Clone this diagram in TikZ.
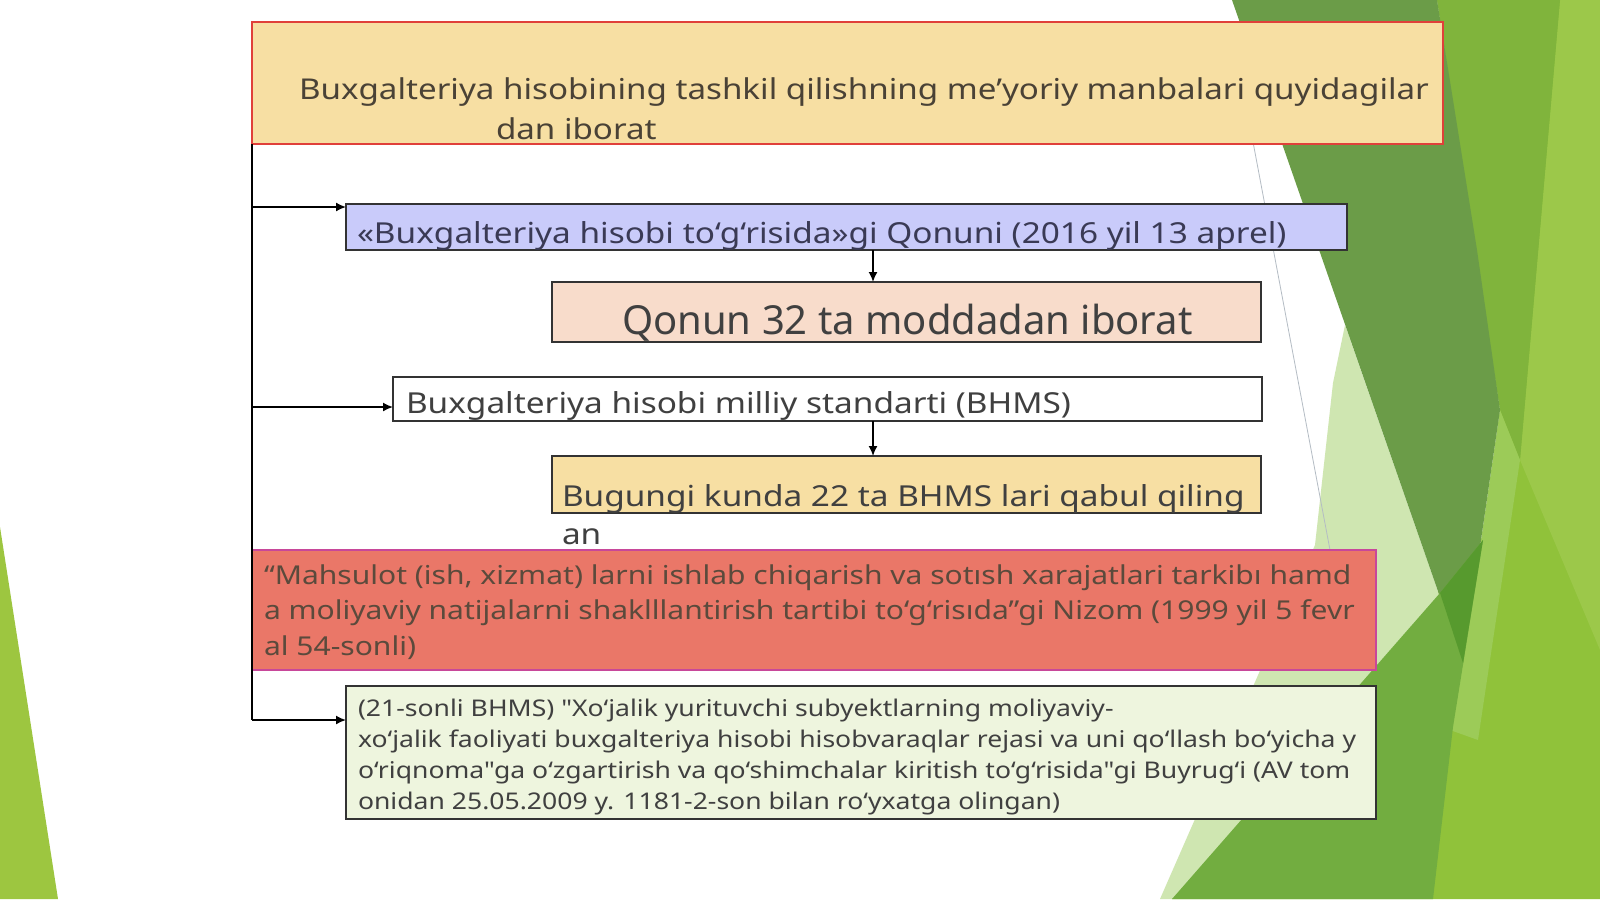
\documentclass[tikz,border=0pt]{standalone}
\usepackage{fontspec}
\setmainfont{Noto Sans}
\newfontfamily\widesans[FakeStretch=1.155]{Noto Sans}
\usetikzlibrary{arrows.meta}
\definecolor{leafgreen}{HTML}{9DC640}
\definecolor{brightleaf}{HTML}{90C23A}
\definecolor{sideleaf}{HTML}{9CC84A}
\definecolor{midleaf}{HTML}{80B43C}
\definecolor{darkleaf}{HTML}{6B9C48}
\definecolor{lightleaf}{HTML}{9CCB58}
\definecolor{paleleaf}{HTML}{CFE6B1}
\definecolor{lowleaf}{HTML}{72AD40}
\definecolor{deepleaf}{HTML}{579A2E}
\definecolor{rulegray}{HTML}{B4BCC4}
\definecolor{boxline}{HTML}{333333}
\definecolor{titlered}{HTML}{E0403A}
\definecolor{titlefill}{HTML}{F7DFA3}
\definecolor{titletext}{HTML}{4A4236}
\definecolor{lawfill}{HTML}{C9CBFA}
\definecolor{lawtext}{HTML}{3A3A55}
\definecolor{peachfill}{HTML}{F8DCCB}
\definecolor{plaintext}{HTML}{404040}
\definecolor{nizomfill}{HTML}{EA7768}
\definecolor{nizomline}{HTML}{C8479A}
\definecolor{nizomtext}{HTML}{5B4A3C}
\definecolor{orderfill}{HTML}{EEF5DE}
\def\boxtext[#1:#2:#3:#4]#5{\parbox[c][#2pt][t]{#1pt}{\raggedright\leftskip=#4pt\rightskip=-100pt plus 1fil\rule{0pt}{#3pt}#5}}
\tikzset{
	srcbox/.style={draw=boxline, line width=1.3pt, inner sep=0pt, outer sep=0pt, anchor=north west},
	trunk/.style={line width=1.6pt},
	feed/.style={line width=1.6pt, -{Latex[length=10pt,width=9pt]}}
}
\begin{document}
\begin{tikzpicture}[x=1pt,y=-1pt]
		%%%%% BACKGROUND %%%%%
		\useasboundingbox (0,0) rectangle (1600,899);
		\fill[white] (0,0) rectangle (1600,899);
		\fill[leafgreen] (0,527) -- (58,899) -- (0,899) -- cycle;
		
		\fill[brightleaf] (1437,0) -- (1600,0) -- (1600,899) -- (1172,899) -- (1483,540) -- (1500,410) -- cycle;
		\fill[paleleaf] (1345,325) -- (1463,663) -- (1172,899) -- (1160,899) -- (1315,545) -- (1333,383) -- cycle;
		\fill[sideleaf] (1560,0) -- (1600,0) -- (1600,650) -- (1520,460) -- cycle;
		\fill[midleaf] (1437,0) -- (1560,0) -- (1520,460) -- (1500,410) -- cycle;
		\fill[lightleaf] (1500,410) -- (1520,460) -- (1478,740) -- (1450,730) -- (1463,663) -- cycle;
		\fill[darkleaf] (1232,0) -- (1437,0) -- (1477,250) -- (1500,410) -- (1463,663) -- cycle;
		\fill[lowleaf] (1172,899) -- (1440,593) -- (1483,540) -- (1453,727) -- (1433,899) -- cycle;
		\fill[deepleaf] (1440,593) -- (1483,540) -- (1463,663) -- cycle;
		\draw[rulegray, line width=0.8pt] (1253,142) -- (1330,550);
		
		%%%%% BOXES %%%%%
		\node[srcbox, draw=titlered, fill=titlefill, text=titletext, font=\widesans\fontsize{28.7}{40}\selectfont] (title) at (252,22)
			{\boxtext[1191:122:77:47]{Buxgalteriya hisobining tashkil qilishning me’yoriy manbalari quyidagilar\\\hspace*{197pt}dan iborat}};
		\node[srcbox, fill=lawfill, text=lawtext, font=\widesans\fontsize{28.9}{40}\selectfont] (law) at (346,204)
			{\boxtext[1001:46:39:11]{«Buxgalteriya hisobi to‘g‘risida»gi Qonuni (2016 yil 13 aprel)}};
		\node[srcbox, fill=peachfill, text=plaintext, font=\fontsize{40}{50}\selectfont] (lawsize) at (552,282)
			{\boxtext[709:60:52:70]{Qonun 32 ta moddadan iborat}};
		\node[srcbox, fill=white, text=plaintext, font=\widesans\fontsize{28.9}{40}\selectfont] (nas) at (393,377)
			{\boxtext[869:44:36:13]{Buxgalteriya hisobi milliy standarti (BHMS)}};
		\node[srcbox, fill=titlefill, text=plaintext, font=\widesans\fontsize{28.9}{38}\selectfont] (nascount) at (552,456)
			{\boxtext[709:57:50:10]{Bugungi kunda 22 ta BHMS lari qabul qiling\\an}};
		\node[srcbox, draw=nizomline, fill=nizomfill, text=nizomtext, font=\widesans\fontsize{26}{35.5}\selectfont] (nizom) at (252,550)
			{\boxtext[1124:120:34:12]{“Mahsulot (ish, xizmat) larni ishlab chiqarish va sotısh xarajatlari tarkibı hamd\\a moliyaviy natijalarni shaklllantirish tartibi to‘g‘risıda”gi Nizom (1999 yil 5 fevr\\al 54-sonli)}};
		\node[srcbox, fill=orderfill, text=plaintext, font=\widesans\fontsize{23}{31.3}\selectfont] (order) at (346,686)
			{\boxtext[1030:133:30:12]{(21-sonli BHMS) "Xo‘jalik yurituvchi subyektlarning moliyaviy-\\xo‘jalik faoliyati buxgalteriya hisobi hisobvaraqlar rejasi va uni qo‘llash bo‘yicha y\\o‘riqnoma"ga o‘zgartirish va qo‘shimchalar kiritish to‘g‘risida"gi Buyrug‘i (AV tom\\onidan 25.05.2009 y. 1181-2-son bilan ro‘yxatga olingan)}};
		
		%%%%% CONNECTORS %%%%%
		\coordinate (feedA) at (252,207);
		\coordinate (feedB) at (252,407);
		\coordinate (feedC) at (252,720);
		\coordinate (drop) at (873,0);
		\draw[trunk] (title.south west) -- (feedC);
		\draw[feed] (feedA) -- (feedA -| law.west);
		\draw[feed] (feedB) -- (feedB -| nas.west);
		\draw[feed] (feedC) -- (feedC -| order.west);
		\draw[feed] (law.south -| drop) -- (lawsize.north -| drop);
		\draw[feed] (nas.south -| drop) -- (nascount.north -| drop);
\end{tikzpicture}
\end{document}
